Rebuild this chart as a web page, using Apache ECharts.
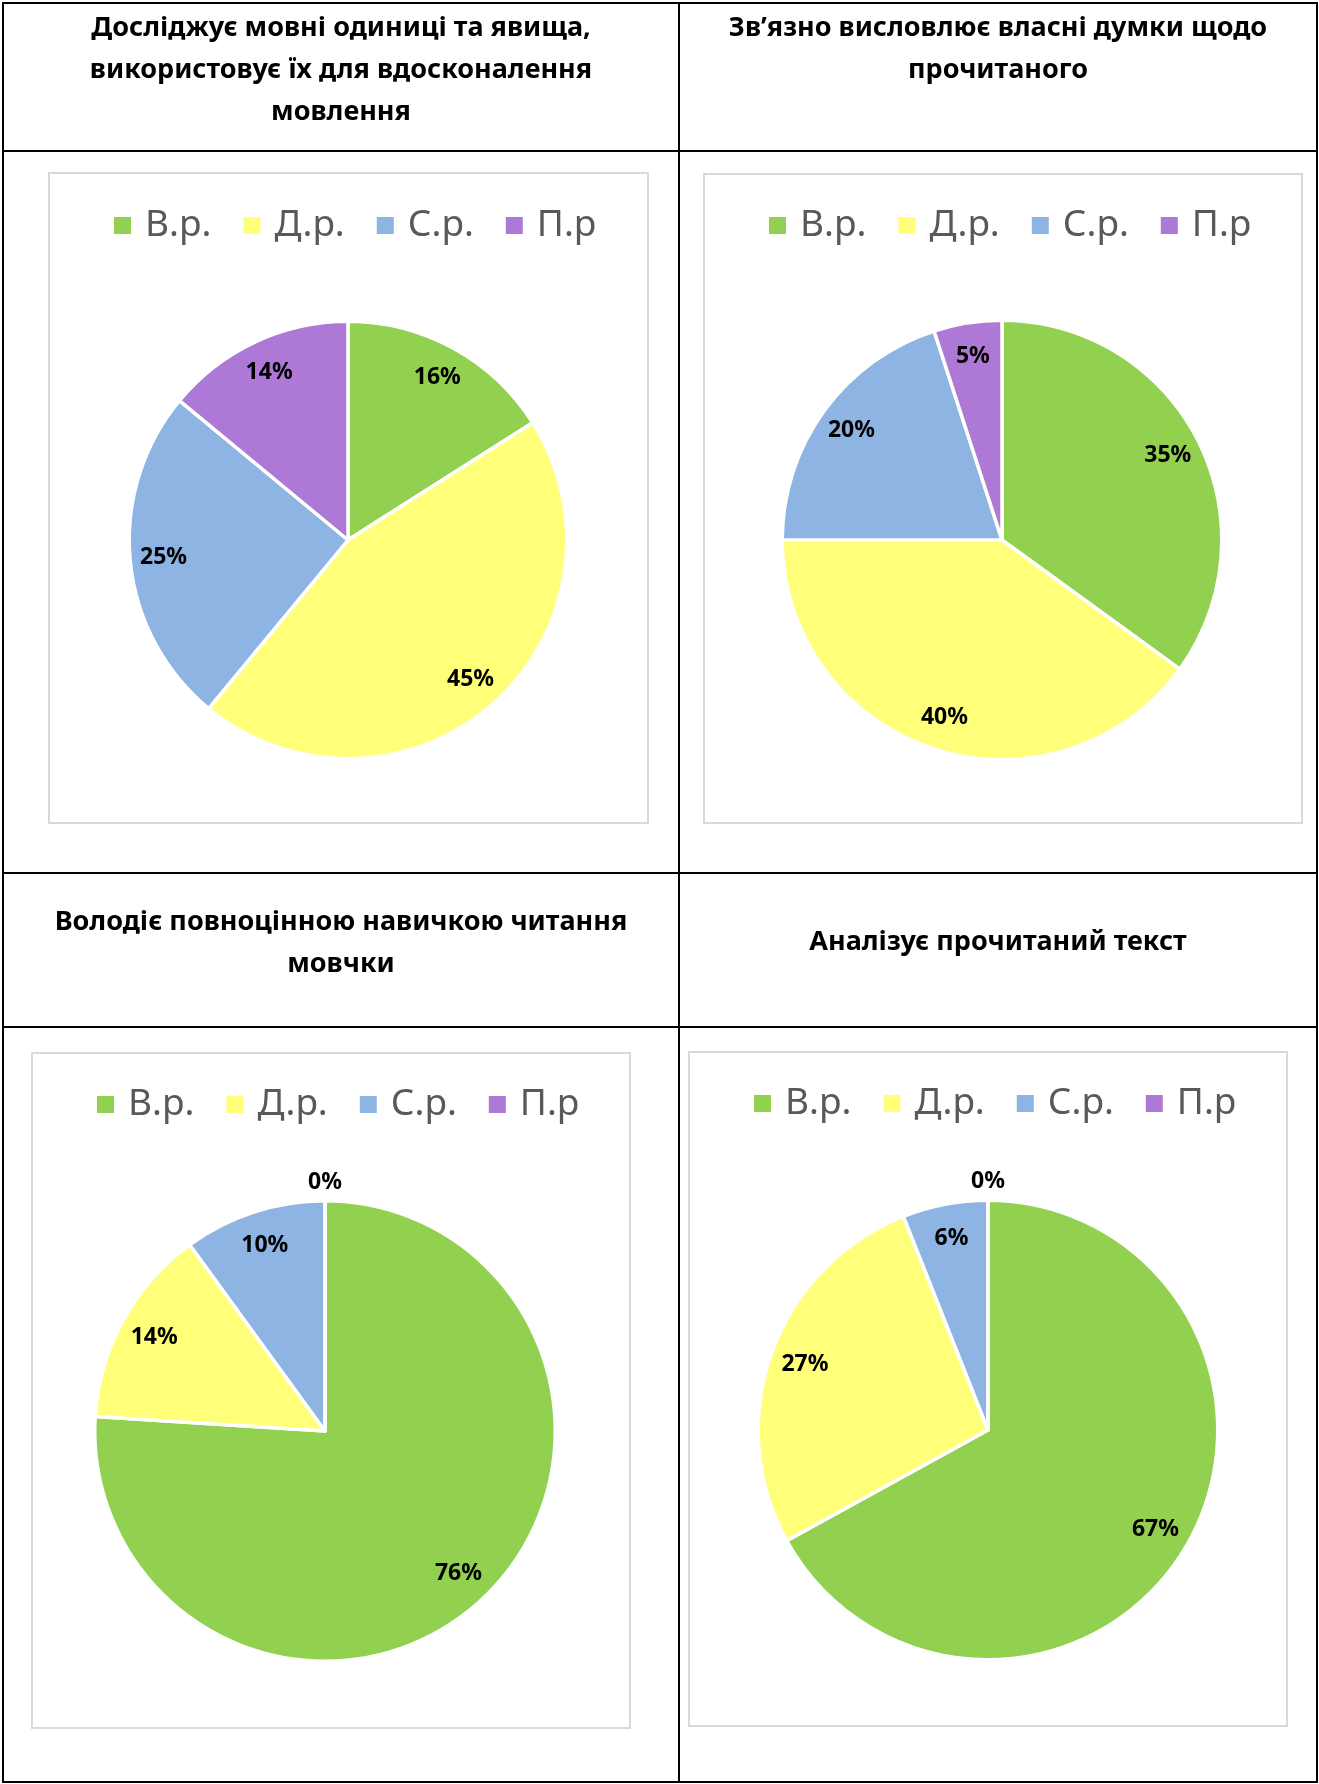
<!DOCTYPE html>
<html>
<head>
<meta charset="utf-8">
<script src="https://cdn.jsdelivr.net/npm/echarts@6/dist/echarts.min.js"></script>
<style>
html,body{margin:0;padding:0;background:#fff;}
#chart{width:1319px;height:1784px;}
</style>
</head>
<body>
<div id="chart"></div>
<script>
// ---- data ----
const categories = ['В.р.', 'Д.р.', 'С.р.', 'П.р'];
const titles = [
  'Досліджує мовні одиниці та явища,\nвикористовує їх для вдосконалення\nмовлення',
  'Зв’язно висловлює власні думки щодо\nпрочитаного',
  'Володіє повноцінною навичкою читання\nмовчки',
  'Аналізує прочитаний текст'
];
const values1 = [16, 45, 25, 14];
const values2 = [35, 40, 20, 5];
const values3 = [76, 14, 10, 0];
const values4 = [67, 27, 6, 0];
const allValues = [values1, values2, values3, values4];
const colors = ['#92D050', '#FFFF79', '#8EB4E3', '#AD78D6'];

// ---- layout ----
const layout = [
  {box: [49, 173, 648, 823], center: [348, 540], r: 217, legendLeft: 112, legendY: 224, titleX: 341, titleY: 7},
  {box: [704, 174, 1302, 823], center: [1002, 540], r: 218, legendLeft: 767, legendY: 224, titleX: 998, titleY: 7},
  {box: [32, 1053, 630, 1728], center: [325, 1431], r: 228.5, legendLeft: 95, legendY: 1103, titleX: 341, titleY: 901},
  {box: [689, 1052, 1287, 1726], center: [988, 1430], r: 228, legendLeft: 752, legendY: 1102, titleX: 998, titleY: 921}
];

const FONT = 'Noto Sans';
const titleOpts = [], legendOpts = [], visSeries = [], labelSeries = [], graphics = [];

layout.forEach((L, k) => {
  titleOpts.push({
    text: titles[k], left: L.titleX, top: L.titleY, textAlign: 'center', padding: 0,
    textStyle: {fontFamily: FONT, fontSize: 27, fontWeight: 'bold', color: '#000', lineHeight: 42}
  });
  legendOpts.push({
    data: categories, left: L.legendLeft, top: L.legendY - 17, padding: 0, icon: 'rect',
    itemWidth: 19, itemHeight: 19, itemGap: 30, selectedMode: false,
    textStyle: {fontFamily: FONT, fontSize: 37, color: '#595959', padding: [0, 0, 0, 8]}
  });
  const vals = allValues[k];
  visSeries.push({
    type: 'pie', center: L.center, radius: L.r + 1.75, startAngle: 90, clockwise: true,
    silent: true, animation: false,
    label: {show: false}, labelLine: {show: false},
    itemStyle: {borderColor: '#ffffff', borderWidth: 3.5},
    data: categories.map((n, i) => ({name: n, value: vals[i]}))
  });
  labelSeries.push({
    type: 'pie', center: L.center, radius: [L.r * 0.68, L.r], startAngle: 90, clockwise: true,
    silent: true, animation: false,
    itemStyle: {color: 'rgba(0,0,0,0)', borderWidth: 0},
    labelLine: {show: false},
    label: {show: true, position: 'inside', formatter: '{c}%', color: '#000',
            fontFamily: FONT, fontWeight: 'bold', fontSize: 23},
    data: categories.map((n, i) => vals[i] === 0
      ? {name: n, value: vals[i], label: {offset: [0, -0.235 * L.r]}}
      : {name: n, value: vals[i]})
  });
  const b = L.box;
  graphics.push({type: 'rect', shape: {x: b[0], y: b[1], width: b[2] - b[0], height: b[3] - b[1]},
    style: {fill: 'none', stroke: '#D9D9D9', lineWidth: 2}, z: 0});
});

// table lines
const lineStyle = {stroke: '#000', lineWidth: 2};
graphics.push({type: 'rect', shape: {x: 3, y: 3, width: 1314, height: 1779}, style: {fill: 'none', stroke: '#000', lineWidth: 2}});
graphics.push({type: 'line', shape: {x1: 679, y1: 3, x2: 679, y2: 1782}, style: lineStyle});
[151, 873, 1027].forEach(y => graphics.push({type: 'line', shape: {x1: 3, y1: y, x2: 1317, y2: y}, style: lineStyle}));

const chart = echarts.init(document.getElementById('chart'), null, {renderer: 'canvas'});
chart.setOption({
  backgroundColor: '#ffffff',
  animation: false,
  color: colors,
  title: titleOpts,
  legend: legendOpts,
  graphic: graphics,
  series: visSeries.concat(labelSeries)
});
</script>
</body>
</html>
